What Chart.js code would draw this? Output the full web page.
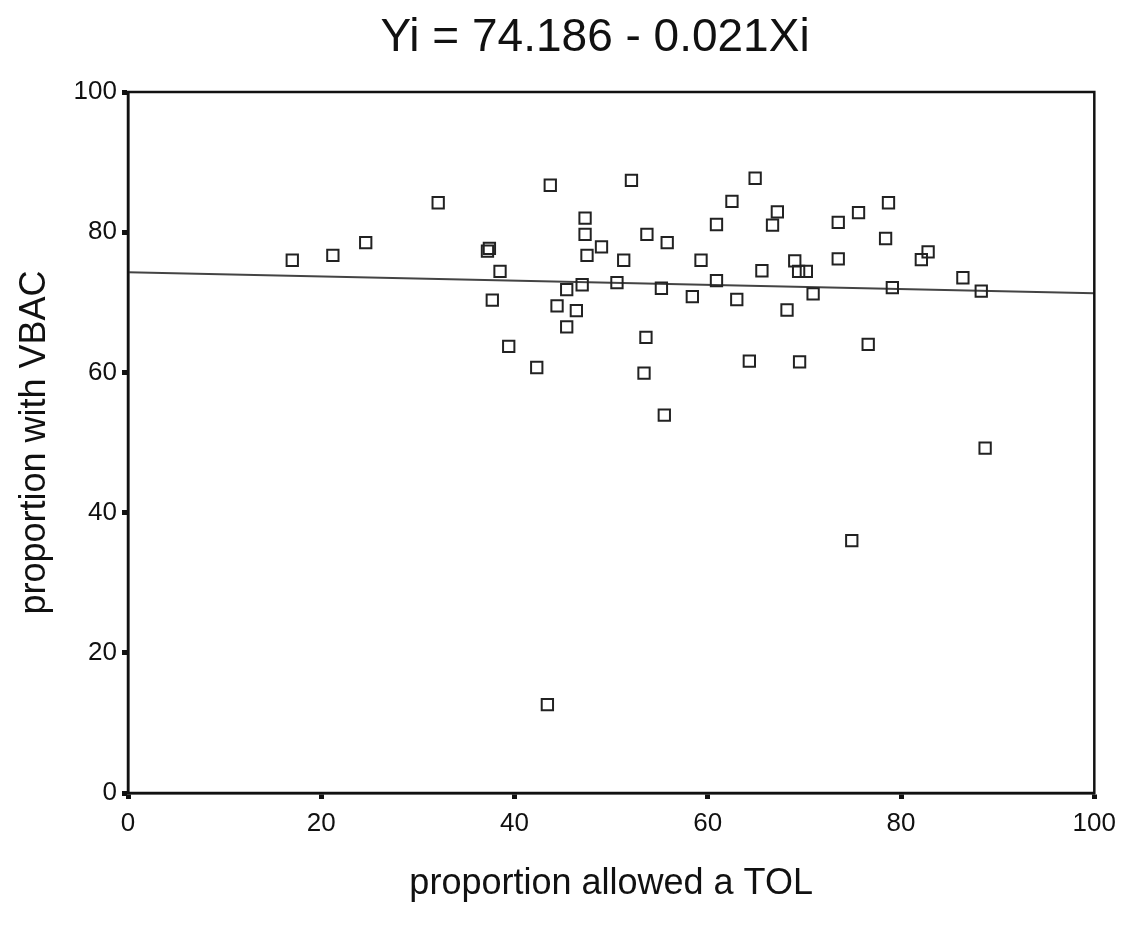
<!DOCTYPE html>
<html>
<head>
<meta charset="utf-8">
<script src="https://cdn.jsdelivr.net/npm/chart.js@4.4.0/dist/chart.umd.min.js"></script>
<style>
    body { margin: 0; background: #fff; }
    #wrap { width: 1125px; height: 932px; }
</style>
</head>
<body>
<div id="wrap"><canvas id="scatterChart" width="1125" height="932"></canvas></div>
<script>
// proportion allowed a TOL (x) and proportion with VBAC (y)
const tolValues = [17.0, 21.2, 24.6, 32.1, 37.2, 37.4, 37.7, 38.5, 39.4, 42.3,
    43.4, 43.7, 44.4, 45.4, 45.4, 46.4, 47.0, 47.3, 47.3, 47.5,
    49.0, 50.6, 51.3, 52.1, 53.4, 53.6, 53.7, 55.2, 55.5, 55.8,
    58.4, 59.3, 60.9, 60.9, 62.5, 63.0, 64.3, 64.9, 65.6, 66.7,
    67.2, 68.2, 69.0, 69.4, 70.2, 69.5, 70.9, 73.5, 73.5, 74.9,
    75.6, 76.6, 78.4, 78.7, 79.1, 82.1, 82.8, 86.4, 88.3, 88.7];
const vbacValues = [76.0, 76.7, 78.5, 84.2, 77.3, 77.7, 70.3, 74.4, 63.7, 60.7,
    12.6, 86.7, 69.5, 71.8, 66.5, 68.8, 72.5, 82.0, 79.7, 76.7,
    77.9, 72.8, 76.0, 87.4, 59.9, 65.0, 79.7, 72.0, 53.9, 78.5,
    70.8, 76.0, 81.1, 73.1, 84.4, 70.4, 61.6, 87.7, 74.5, 81.0,
    82.9, 68.9, 75.9, 74.4, 74.4, 61.5, 71.2, 81.4, 76.2, 36.0,
    82.8, 64.0, 79.1, 84.2, 72.1, 76.1, 77.2, 73.5, 71.6, 49.2];

// fit line end points
const fitX = [0, 100];
const fitY = [74.3, 71.3];

const axisTicks = [0, 20, 40, 60, 80, 100];
const chartTitle = 'Yi = 74.186 - 0.021Xi';

const FONT = '"Liberation Sans", Arial, sans-serif';
const INK = '#111';

// Frame round the plot area + the equation on top
const framePlugin = {
    id: 'frame',
    afterDraw(chart) {
        const { ctx, chartArea } = chart;
        ctx.save();
        ctx.strokeStyle = INK;
        ctx.lineWidth = 2.5;
        ctx.strokeRect(chartArea.left, chartArea.top,
            chartArea.right - chartArea.left, chartArea.bottom - chartArea.top);

        ctx.fillStyle = INK;
        ctx.font = '46px ' + FONT;
        ctx.textAlign = 'center';
        ctx.textBaseline = 'alphabetic';
        ctx.fillText(chartTitle, 595, 51);
        ctx.restore();
    }
};

const tickGrid = {
    display: true,
    drawOnChartArea: false,
    drawTicks: true,
    tickLength: 6,
    tickWidth: 5,
    color: INK
};

const ctx = document.getElementById('scatterChart').getContext('2d');
const scatterChart = new Chart(ctx, {
    type: 'scatter',
    data: {
        datasets: [{
            label: 'VBAC',
            data: tolValues.map((x, i) => ({ x: x, y: vbacValues[i] })),
            pointStyle: 'rect',
            pointRadius: 8,
            pointHoverRadius: 8,
            borderColor: '#222',
            borderWidth: 2,
            backgroundColor: 'rgba(0,0,0,0)'
        }, {
            type: 'line',
            label: 'fit',
            data: fitX.map((x, i) => ({ x: x, y: fitY[i] })),
            showLine: true,
            pointRadius: 0,
            borderColor: '#444',
            borderWidth: 2,
            fill: false
        }]
    },
    options: {
        responsive: false,
        animation: false,
        layout: {
            padding: { top: 92, right: 30, bottom: 0, left: 0 }
        },
        plugins: {
            legend: { display: false },
            tooltip: { enabled: false }
        },
        scales: {
            x: {
                type: 'linear',
                min: 0,
                max: 100,
                afterBuildTicks: (scale) => { scale.ticks = axisTicks.map(v => ({ value: v })); },
                afterFit: (scale) => { scale.height = 139; },
                ticks: {
                    color: INK,
                    padding: 9,
                    font: { family: FONT, size: 26 }
                },
                grid: tickGrid,
                border: { display: true, color: INK, width: 2.5 },
                title: {
                    display: true,
                    text: 'proportion allowed a TOL',
                    color: INK,
                    font: { family: FONT, size: 36 },
                    padding: { top: 0, bottom: 26 }
                }
            },
            y: {
                type: 'linear',
                min: 0,
                max: 100,
                afterBuildTicks: (scale) => { scale.ticks = axisTicks.map(v => ({ value: v })); },
                afterFit: (scale) => { scale.width = 128; },
                ticks: {
                    color: INK,
                    padding: 5,
                    font: { family: FONT, size: 26 }
                },
                grid: tickGrid,
                border: { display: true, color: INK, width: 2.5 },
                title: {
                    display: true,
                    text: 'proportion with VBAC',
                    color: INK,
                    font: { family: FONT, size: 36 },
                    padding: { top: 13, bottom: 0 }
                }
            }
        }
    },
    plugins: [framePlugin]
});
</script>
</body>
</html>
